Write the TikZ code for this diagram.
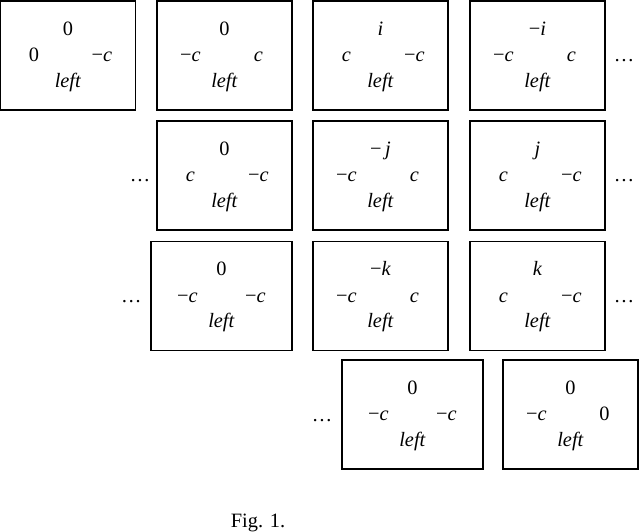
\documentclass[tikz,border=0pt]{standalone}
\usepackage{fontspec}
\setmainfont{Liberation Serif}
\newcommand{\negc}{−\textit{c}}
\newcommand{\gcell}[6][]{%
  \node[cell,#1] (#2) at (#3) {};
  \node[entry] (#2t) at ([yshift=0.51cm]#2.center) {#4};
  \node[entry] (#2l) at ([xshift=-0.85cm,yshift=-0.16cm]#2.center) {#5};
  \node[entry] (#2r) at ([xshift=0.85cm,yshift=-0.16cm]#2.center) {#6};
  \node[entry] (#2b) at ([yshift=-0.79cm]#2.center) {\textit{left}};
}
\tikzset{
  cell/.style={draw, line width=1.1pt, minimum width=3.375cm, minimum height=2.725cm, inner sep=0pt},
  wide/.style={minimum width=3.525cm},
  entry/.style={anchor=base, inner sep=0pt, font=\fontsize{14.5}{16}\selectfont},
}
\begin{document}
\begin{tikzpicture}
\useasboundingbox (0,0) rectangle (16,13.275);
% first row
\gcell{b11}{1.7,11.8875}{0}{0}{\negc}
\gcell{b12}{5.6125,11.8875}{0}{\negc}{\textit{c}}
\gcell{b13}{9.5125,11.8875}{\textit{i}}{\textit{c}}{\negc}
\gcell{b14}{13.4375,11.8875}{−\textit{i}}{\negc}{\textit{c}}
\node[entry] (d1r) at (15.6,11.725) {\dots};
% second row
\gcell{b22}{5.6125,8.8875}{0}{\textit{c}}{\negc}
\gcell{b23}{9.5125,8.8875}{−\,\textit{j}}{\negc}{\textit{c}}
\gcell{b24}{13.4375,8.8875}{\textit{j}}{\textit{c}}{\negc}
\node[entry] (d2l) at (3.5,8.725) {\dots};
\node[entry] (d2r) at (15.6,8.725) {\dots};
% third row
\gcell[wide]{b32}{5.5375,5.875}{0}{\negc}{\negc}
\gcell{b33}{9.5125,5.875}{−\textit{k}}{\negc}{\textit{c}}
\gcell{b34}{13.4375,5.875}{\textit{k}}{\textit{c}}{\negc}
\node[entry] (d3l) at (3.28,5.71) {\dots};
\node[entry] (d3r) at (15.6,5.71) {\dots};
% fourth row
\gcell[wide]{b42}{10.3125,2.9125}{0}{\negc}{\negc}
\gcell{b43}{14.2625,2.9125}{0}{\negc}{0}
\node[entry] (d4l) at (8.05,2.75) {\dots};
% caption
\node[entry] (cap) at (6.45,0.1) {Fig. 1.};
\end{tikzpicture}
\end{document}
